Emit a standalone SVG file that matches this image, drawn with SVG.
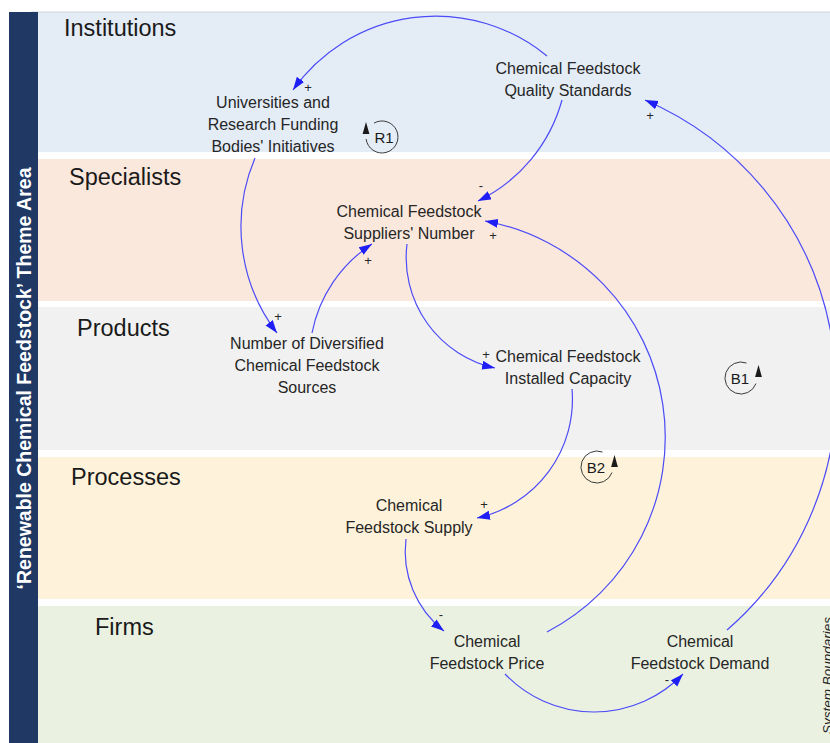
<svg xmlns="http://www.w3.org/2000/svg" width="830" height="743" viewBox="0 0 830 743">
  <defs>
    <style>
      .band-title { font-family: "Liberation Sans", Arial, sans-serif; font-size: 23.5px; fill: #1a1a1a; }
      .node text { font-family: "Liberation Sans", Arial, sans-serif; font-size: 16px; fill: #262626; text-anchor: middle; }
      .sign { font-family: "Liberation Sans", Arial, sans-serif; font-size: 13px; fill: #262626; text-anchor: middle; }
      .link { fill: none; stroke: #4b4bf7; stroke-width: 1.2; marker-end: url(#arrow); }
      .loop circle, .loop path.ring { fill: none; stroke: #3a3a3a; stroke-width: 1; }
      .loop text { font-family: "Liberation Sans", Arial, sans-serif; font-size: 15px; fill: #1a1a1a; text-anchor: middle; }
      .loop polygon { fill: #1a1a1a; }
    </style>
    <marker id="arrow" markerUnits="userSpaceOnUse" markerWidth="14" markerHeight="10" refX="13" refY="4.5" orient="auto">
      <path d="M0,0 L13,4.5 L0,9 Z" fill="#1e1ef5"/>
    </marker>
  </defs>

  <!-- background -->
  <rect x="0" y="0" width="830" height="743" fill="#ffffff"/>

  <!-- horizontal theme bands -->
  <g id="bands">
    <rect x="38" y="12" width="792" height="140" fill="#e4ecf6"/>
    <rect x="38" y="159" width="792" height="142" fill="#fbe8dc"/>
    <rect x="38" y="307" width="792" height="143" fill="#f1f1f1"/>
    <rect x="38" y="457" width="792" height="142" fill="#fef3da"/>
    <rect x="38" y="606" width="792" height="137" fill="#eaf1e1"/>
    <line x1="31" y1="12" x2="830" y2="12" stroke="#cfd3d8" stroke-width="1"/>
  </g>

  <!-- side title bar -->
  <g id="theme-bar">
    <rect x="9" y="12" width="29" height="731" fill="#1f3864"/>
    <text transform="translate(31,378.5) rotate(-90)" font-family="'Liberation Sans', Arial, sans-serif" font-size="19.5" font-weight="bold" fill="#ffffff" text-anchor="middle">‘Renewable Chemical Feedstock’ Theme Area</text>
  </g>

  <!-- band titles -->
  <g id="band-titles">
    <text class="band-title" x="64" y="36">Institutions</text>
    <text class="band-title" x="69" y="185">Specialists</text>
    <text class="band-title" x="77" y="336">Products</text>
    <text class="band-title" x="71" y="485">Processes</text>
    <text class="band-title" x="95" y="635">Firms</text>
  </g>

  <!-- boundary label, running off the right edge -->
  <text transform="translate(832,617) rotate(-90)" font-family="'Liberation Sans', Arial, sans-serif" font-size="13.5" font-style="italic" fill="#262626" text-anchor="end">System Boundaries</text>

  <!-- causal links -->
  <g id="connectors">
    <path class="link" d="M547,56 A175,175 0 0 0 293,90"/>
    <path class="link" d="M562,100 A159,159 0 0 1 478,201"/>
    <path class="link" d="M255,158 A175,175 0 0 0 277,333"/>
    <path class="link" d="M312,333 A137.5,137.5 0 0 1 372,244"/>
    <path class="link" d="M407,244 A113,113 0 0 0 495,368"/>
    <path class="link" d="M572,389 A121.3,121.3 0 0 1 477,518"/>
    <path class="link" d="M406,539 A101,101 0 0 0 444,631"/>
    <path class="link" d="M505,674 A123.2,123.2 0 0 0 683,674"/>
    <path class="link" d="M547,632 A219.7,219.7 0 0 0 485,221"/>
    <path class="link" d="M727,630 A316.6,316.6 0 0 0 645,100"/>

    <!-- polarity signs -->
    <text class="sign" x="308" y="92">+</text>
    <text class="sign" x="650" y="120">+</text>
    <text class="sign" x="481" y="190">-</text>
    <text class="sign" x="493" y="240">+</text>
    <text class="sign" x="368" y="265">+</text>
    <text class="sign" x="278" y="321">+</text>
    <text class="sign" x="486" y="359">+</text>
    <text class="sign" x="484" y="509">+</text>
    <text class="sign" x="441" y="619">-</text>
    <text class="sign" x="667" y="684">-</text>
  </g>

  <!-- variables -->
  <g id="quality-standards" class="node">
    <text x="568" y="74">Chemical Feedstock</text>
    <text x="568" y="96">Quality Standards</text>
  </g>
  <g id="research-initiatives" class="node">
    <text x="273" y="108">Universities and</text>
    <text x="273" y="130">Research Funding</text>
    <text x="273" y="152">Bodies' Initiatives</text>
  </g>
  <g id="suppliers-number" class="node">
    <text x="409" y="217">Chemical Feedstock</text>
    <text x="409" y="239">Suppliers' Number</text>
  </g>
  <g id="diversified-sources" class="node">
    <text x="307" y="349">Number of Diversified</text>
    <text x="307" y="371">Chemical Feedstock</text>
    <text x="307" y="393">Sources</text>
  </g>
  <g id="installed-capacity" class="node">
    <text x="568" y="362">Chemical Feedstock</text>
    <text x="568" y="384">Installed Capacity</text>
  </g>
  <g id="feedstock-supply" class="node">
    <text x="409" y="511">Chemical</text>
    <text x="409" y="533">Feedstock Supply</text>
  </g>
  <g id="feedstock-price" class="node">
    <text x="487" y="647">Chemical</text>
    <text x="487" y="669">Feedstock Price</text>
  </g>
  <g id="feedstock-demand" class="node">
    <text x="700" y="647">Chemical</text>
    <text x="700" y="669">Feedstock Demand</text>
  </g>

  <!-- loop identifiers -->
  <g id="loop-r1" class="loop">
    <path class="ring" d="M374,123.1 A16,16 0 1 1 366.1,139"/>
    <polygon points="366,122 362.6,134 369.4,134"/>
    <text x="384" y="142.5">R1</text>
  </g>
  <g id="loop-b1" class="loop">
    <path class="ring" d="M746.5,363 A16,16 0 1 0 756,383.5"/>
    <polygon points="758.5,365 755.1,377 761.9,377"/>
    <text x="740" y="383.5">B1</text>
  </g>
  <g id="loop-b2" class="loop">
    <path class="ring" d="M602.5,452 A16,16 0 1 0 612,472.5"/>
    <polygon points="614.5,455 611.1,467 617.9,467"/>
    <text x="596" y="472.5">B2</text>
  </g>
</svg>
